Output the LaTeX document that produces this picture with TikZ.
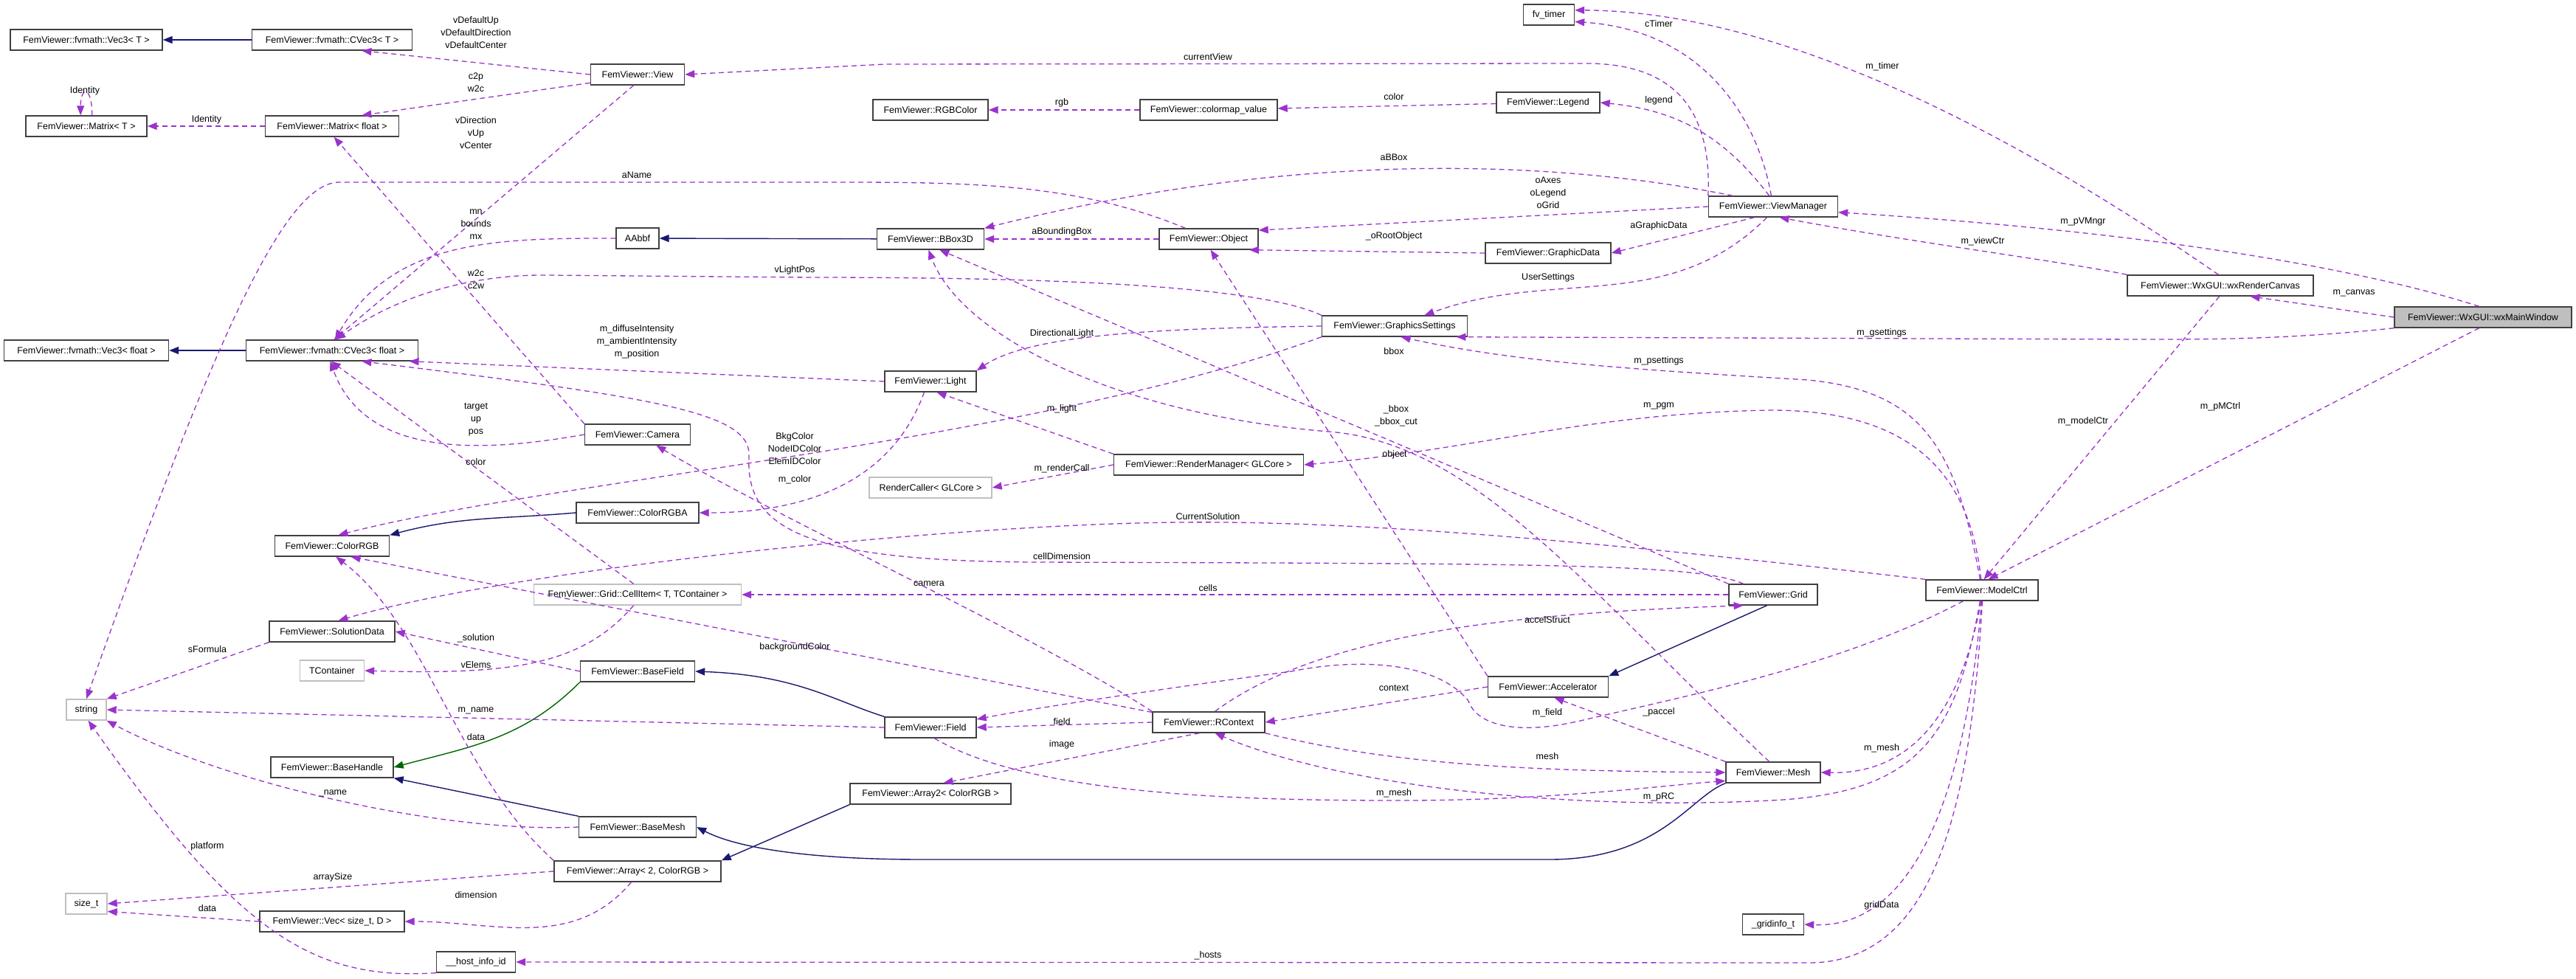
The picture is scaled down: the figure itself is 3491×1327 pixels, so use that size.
\documentclass[tikz,border=0pt]{standalone}
\usepackage{fontspec}
\setmainfont{Liberation Sans}
\usetikzlibrary{arrows.meta}
\definecolor{usec}{HTML}{9A32CD}
\definecolor{inhc}{HTML}{191970}
\definecolor{protc}{HTML}{006400}
\definecolor{grayb}{HTML}{BFBFBF}
\tikzset{
 cls/.style={draw=black!75,line width=1.4pt,rectangle,minimum height=28pt,inner sep=2pt,font=\fontsize{12.5}{14}\selectfont},
 ucls/.style={cls,draw=grayb},
 use/.style={draw=usec,line width=1.3pt,dash pattern=on 7pt off 5pt,-{Triangle[length=13pt,width=10pt]}},
 inh/.style={draw=inhc,line width=1.4pt,-{Triangle[length=13pt,width=10pt]}},
 prot/.style={draw=protc,line width=1.4pt,-{Triangle[length=13pt,width=10pt]}},
 lab/.style={font=\fontsize{12.5}{17}\selectfont,align=center,inner sep=0pt}
}
\begin{document}
\begin{tikzpicture}[x=1pt,y=-1pt]
\useasboundingbox (0,0) rectangle (3491,1327);
% nodes
\node[cls,minimum width=206] (vecT) at (117,54) {FemViewer::fvmath::Vec3< T >};
\node[cls,minimum width=217] (cvecT) at (450,54) {FemViewer::fvmath::CVec3< T >};
\node[cls,minimum width=127] (view) at (864,101) {FemViewer::View};
\node[cls,minimum width=164] (matT) at (117,171) {FemViewer::Matrix< T >};
\node[cls,minimum width=181] (matF) at (450,171) {FemViewer::Matrix< float >};
\node[cls,minimum width=58] (aabbf) at (864,323) {AAbbf};
\node[cls,minimum width=223] (vecF) at (117,475) {FemViewer::fvmath::Vec3< float >};
\node[cls,minimum width=233] (cvecF) at (450,475) {FemViewer::fvmath::CVec3< float >};
\node[cls,minimum width=143] (camera) at (864,589) {FemViewer::Camera};
\node[cls,minimum width=166] (rgba) at (864,695) {FemViewer::ColorRGBA};
\node[cls,minimum width=155] (rgb) at (450,740) {FemViewer::ColorRGB};
\node[ucls,minimum width=281] (cellitem) at (864,806) {FemViewer::Grid::CellItem< T, TContainer >};
\node[cls,minimum width=170] (soldata) at (450,856) {FemViewer::SolutionData};
\node[ucls,minimum width=87] (tcont) at (450,909) {TContainer};
\node[ucls,minimum width=54] (string) at (117,962) {string};
\node[cls,minimum width=155] (basefield) at (864,910) {FemViewer::BaseField};
\node[cls,minimum width=166] (basehandle) at (450,1040) {FemViewer::BaseHandle};
\node[cls,minimum width=159] (basemesh) at (864,1121) {FemViewer::BaseMesh};
\node[cls,minimum width=226] (arr2rgb) at (864,1181) {FemViewer::Array< 2, ColorRGB >};
\node[ucls,minimum width=56] (sizet) at (117,1225) {size\_t};
\node[cls,minimum width=196] (vecsize) at (450,1249) {FemViewer::Vec< size\_t, D >};
\node[cls,minimum width=107] (hostinfo) at (645,1304) {\_\_host\_info\_id};
\node[cls,minimum width=69] (timer) at (2099,20) {fv\_timer};
\node[cls,minimum width=156] (rgbcolor) at (1261,149) {FemViewer::RGBColor};
\node[cls,minimum width=186] (cmap) at (1638,149) {FemViewer::colormap\_value};
\node[cls,minimum width=140] (legend) at (2098,139) {FemViewer::Legend};
\node[cls,minimum width=175] (vmgr) at (2403,280) {FemViewer::ViewManager};
\node[cls,minimum width=145] (bbox) at (1261,324) {FemViewer::BBox3D};
\node[cls,minimum width=134] (object) at (1638,324) {FemViewer::Object};
\node[cls,minimum width=170] (gdata) at (2098,343) {FemViewer::GraphicData};
\node[cls,minimum width=197] (gsettings) at (1890,442) {FemViewer::GraphicsSettings};
\node[cls,minimum width=124] (light) at (1261,517) {FemViewer::Light};
\node[cls,minimum width=257] (rmgr) at (1638,630) {FemViewer::RenderManager< GLCore >};
\node[ucls,minimum width=166] (rcaller) at (1261,661) {RenderCaller< GLCore >};
\node[cls,minimum width=124] (field) at (1261,986) {FemViewer::Field};
\node[cls,minimum width=152] (rcontext) at (1638,979) {FemViewer::RContext};
\node[cls,minimum width=163] (accel) at (2098,931) {FemViewer::Accelerator};
\node[cls,minimum width=218] (array2) at (1261,1076) {FemViewer::Array2< ColorRGB >};
\node[cls,minimum width=120] (grid) at (2403,806) {FemViewer::Grid};
\node[cls,minimum width=128] (mesh) at (2403,1047) {FemViewer::Mesh};
\node[cls,minimum width=152] (mctrl) at (2686,800) {FemViewer::ModelCtrl};
\node[cls,minimum width=83] (gridinfo) at (2403,1253) {\_gridinfo\_t};
\node[cls,minimum width=252] (canvas) at (3009,387) {FemViewer::WxGUI::wxRenderCanvas};
\node[cls,minimum width=240,fill=grayb] (mainwin) at (3365,430) {FemViewer::WxGUI::wxMainWindow};
% inheritance
\draw[inh] (cvecT) -- (vecT);
\draw[inh] (cvecF) -- (vecF);
\draw[inh] (bbox) -- (aabbf);
\draw[inh] (rgba.west) to[out=185,in=15] (rgb.north east);
\draw[inh] (field.north west) .. controls (1130,950) and (1080,915) .. (basefield.east);
\draw[prot] (basefield.south west) to[out=-135,in=15] (basehandle.east);
\draw[inh] (basemesh.north west) -- (basehandle.south east);
\draw[inh] (array2.south west) -- (arr2rgb.north east);
\draw[inh] (mesh.south west) .. controls (2290,1080) and (2250,1165) .. (2100,1165) -- (1250,1165) .. controls (1100,1165) and (1000,1150) .. (basemesh.east);
\draw[inh] (grid.-120) -- (accel.north east);
% usage
\draw[use] (view.west) -- (cvecT.-20);
\draw[use] (view.-170) -- (matF.20);
\draw[use] (matT.62) .. controls +(0,-40) and +(0,-40) .. (matT.118);
\draw[use] (matF) -- (matT);
\draw[use] (view.-110) -- (cvecF.80);
\draw[use] (object.155) .. controls (1450,245) and (1300,247) .. (1100,247) -- (460,247) .. controls (390,247) and (300,430) .. (string.north);
\draw[use] (aabbf.west) to[out=180,in=60] (cvecF.75);
\draw[use] (gsettings.north west) .. controls (1700,385) and (1400,376) .. (1100,376) -- (740,373) .. controls (640,372) and (540,400) .. (cvecF.70);
\draw[use] (light.west) -- (cvecF.-8);
\draw[use] (camera.west) to[out=190,in=-70] (cvecF.-100);
\draw[use] (camera.north west) -- (matF.-80);
\draw[use] (cellitem.110) -- (cvecF.-95);
\draw[use] (rcontext.north west) .. controls (1400,860) and (1050,700) .. (camera.-30);
\draw[use] (light.-120) to[out=-110,in=0] (rgba.east);
\draw[use] (gsettings.south west) .. controls (1400,600) and (750,650) .. (rgb.60);
\draw[use] (rcontext.170) -- (rgb.-30);
\draw[use] (arr2rgb.north west) .. controls (620,1050) and (580,850) .. (rgb.-70);
\draw[use] (mctrl.north west) .. controls (2300,750) and (1900,705) .. (1600,708) .. controls (1300,710) and (700,770) .. (soldata.60);
\draw[use] (basefield.west) -- (soldata.east);
\draw[use] (soldata.south west) -- (string.north east);
\draw[use] (cellitem.-110) .. controls (790,900) and (700,915) .. (tcont.east);
\draw[use] (field.west) -- (string.east);
\draw[use] (basemesh.west) .. controls (600,1130) and (300,1060) .. (string.south east);
\draw[use] (hostinfo.south west) .. controls (420,1330) and (320,1260) .. (string.-80);
\draw[use] (arr2rgb.west) -- (sizet.east);
\draw[use] (arr2rgb.-120) to[out=-130,in=0] (vecsize.east);
\draw[use] (vecsize.west) -- (sizet.-20);
\draw[use] (vmgr.north west) .. controls (2320,150) and (2270,86) .. (2150,86) -- (1200,87) -- (view.east);
\draw[use] (vmgr.100) .. controls (2380,150) and (2300,40) .. (timer.-15);
\draw[use] (canvas.100) .. controls (2800,230) and (2450,15) .. (timer.10);
\draw[use] (cmap) -- (rgbcolor);
\draw[use] (legend) -- (cmap);
\draw[use] (vmgr.110) .. controls (2340,190) and (2280,150) .. (legend.east);
\draw[use] (vmgr.165) .. controls (2100,215) and (1750,205) .. (bbox.north east);
\draw[use] (vmgr.west) -- (object.10);
\draw[use] (object) -- (bbox);
\draw[use] (gdata.west) -- (object.-15);
\draw[use] (vmgr.-150) -- (gdata.east);
\draw[use] (vmgr.-120) to[out=225,in=20] (gsettings.20);
\draw[use] (gsettings.west) .. controls (1600,445) and (1400,450) .. (light.north east);
\draw[use] (grid.north west) -- (bbox.-50);
\draw[use] (mesh.110) .. controls (2150,800) and (2000,600) .. (1800,585) .. controls (1500,560) and (1300,450) .. (bbox.-100);
\draw[use] (accel.north west) -- (object.-80);
\draw[use] (mctrl.95) .. controls (2670,650) and (2600,556) .. (2400,556) .. controls (2150,560) and (2000,610) .. (rmgr.east);
\draw[use] (mctrl.100) .. controls (2650,600) and (2600,530) .. (2450,515) .. controls (2200,500) and (2050,490) .. (gsettings.-60);
\draw[use] (rmgr.north west) -- (light.-60);
\draw[use] (rmgr.west) -- (rcaller.east);
\draw[use] (grid.west) -- (cellitem.east);
\draw[use] (grid.160) .. controls (2300,764) and (2100,764) .. (1400,762) .. controls (1100,760) and (1010,720) .. (1015,620) .. controls (1020,560) and (900,540) .. (cvecF.-20);
\draw[use] (rcontext.60) .. controls (1800,850) and (2100,830) .. (grid.-160);
\draw[use] (mctrl.-150) .. controls (2500,900) and (2300,940) .. (2150,975) .. controls (2050,1000) and (2000,980) .. (1990,950) .. controls (1950,900) and (1850,890) .. (1750,910) .. controls (1600,930) and (1400,960) .. (field.10);
\draw[use] (rcontext.west) -- (field.east);
\draw[use] (rcontext.-130) -- (array2.40);
\draw[use] (accel.west) -- (rcontext.east);
\draw[use] (rcontext.south east) .. controls (1900,1040) and (2100,1045) .. (mesh.west);
\draw[use] (field.-70) .. controls (1400,1080) and (1700,1085) .. (1900,1085) .. controls (2100,1085) and (2250,1065) .. (mesh.-170);
\draw[use] (mctrl.-100) .. controls (2650,1000) and (2600,1075) .. (2400,1085) .. controls (2100,1100) and (1800,1060) .. (rcontext.-60);
\draw[use] (mesh.north west) -- (accel.-60);
\draw[use] (mctrl.-88) .. controls (2670,1100) and (2620,1306) .. (2450,1305) -- (hostinfo.east);
\draw[use] (mctrl.-95) .. controls (2660,950) and (2600,1050) .. (mesh.east);
\draw[use] (mctrl.-92) .. controls (2670,1000) and (2620,1260) .. (gridinfo.east);
\draw[use] (mainwin.south west) .. controls (3100,460) and (3000,460) .. (2900,460) -- (gsettings.-10);
\draw[use] (mainwin.110) .. controls (3250,380) and (3000,320) .. (vmgr.-5);
\draw[use] (canvas.north west) .. controls (2800,355) and (2600,330) .. (vmgr.-60);
\draw[use] (mainwin.west) -- (canvas.-20);
\draw[use] (canvas.-95) -- (mctrl.80);
\draw[use] (mainwin.-110) -- (mctrl.60);
% labels
\node[lab] (l1) at (645,44) {vDefaultUp\\vDefaultDirection\\vDefaultCenter};
\node[lab] (l2) at (645,112) {c2p\\w2c};
\node[lab] (l3) at (115,123) {Identity};
\node[lab] (l4) at (280,162) {Identity};
\node[lab] (l5) at (645,180) {vDirection\\vUp\\vCenter};
\node[lab] (l6) at (863,237) {aName};
\node[lab] (l7) at (645,304) {mn\\bounds\\mx};
\node[lab] (l8) at (645,379) {w2c\\c2w};
\node[lab] (l9) at (1077,366) {vLightPos};
\node[lab] (l10) at (863,463) {m\_diffuseIntensity\\m\_ambientIntensity\\m\_position};
\node[lab] (l11) at (645,569) {target\\up\\pos};
\node[lab] (l12) at (645,626) {color};
\node[lab] (l13) at (1077,608) {BkgColor\\NodeIDColor\\ElemIDColor};
\node[lab] (l14) at (1077,650) {m\_color};
\node[lab] (l15) at (645,865) {\_solution};
\node[lab] (l16) at (281,880) {sFormula};
\node[lab] (l17) at (645,901) {vElems};
\node[lab] (l18) at (1077,877) {backgroundColor};
\node[lab] (l19) at (645,963) {m\_name};
\node[lab] (l20) at (645,999) {data};
\node[lab] (l21) at (451,1075) {\_name};
\node[lab] (l22) at (281,1147) {platform};
\node[lab] (l23) at (451,1189) {arraySize};
\node[lab] (l24) at (645,1213) {dimension};
\node[lab] (l25) at (281,1231) {data};
\node[lab] (l26) at (2248,32) {cTimer};
\node[lab] (l27) at (1637,77) {currentView};
\node[lab] (l28) at (1439,139) {rgb};
\node[lab] (l29) at (1889,131) {color};
\node[lab] (l30) at (2248,136) {legend};
\node[lab] (l31) at (1889,213) {aBBox};
\node[lab] (l32) at (2098,261) {oAxes\\oLegend\\oGrid};
\node[lab] (l33) at (1439,314) {aBoundingBox};
\node[lab] (l34) at (1889,320) {\_oRootObject};
\node[lab] (l35) at (2248,306) {aGraphicData};
\node[lab] (l36) at (2098,376) {UserSettings};
\node[lab] (l37) at (1439,452) {DirectionalLight};
\node[lab] (l38) at (1889,476) {bbox};
\node[lab] (l39) at (2248,489) {m\_psettings};
\node[lab] (l40) at (1439,554) {m\_light};
\node[lab] (l41) at (1892,564) {\_bbox\\\_bbox\_cut};
\node[lab] (l42) at (2248,550) {m\_pgm};
\node[lab] (l43) at (1890,616) {object};
\node[lab] (l44) at (1439,635) {m\_renderCall};
\node[lab] (l45) at (1637,700) {CurrentSolution};
\node[lab] (l46) at (1439,754) {cellDimension};
\node[lab] (l47) at (1259,791) {camera};
\node[lab] (l48) at (1637,797) {cells};
\node[lab] (l49) at (2097,840) {accelStruct};
\node[lab] (l50) at (1889,933) {context};
\node[lab] (l51) at (2248,965) {\_paccel};
\node[lab] (l52) at (2097,966) {m\_field};
\node[lab] (l53) at (1439,978) {field};
\node[lab] (l54) at (1439,1009) {image};
\node[lab] (l55) at (2097,1025) {mesh};
\node[lab] (l56) at (1889,1075) {m\_mesh};
\node[lab] (l57) at (2248,1080) {m\_pRC};
\node[lab] (l58) at (1637,1295) {\_hosts};
\node[lab] (l59) at (2551,90) {m\_timer};
\node[lab] (l60) at (2823,300) {m\_pVMngr};
\node[lab] (l61) at (2687,327) {m\_viewCtr};
\node[lab] (l62) at (3190,397) {m\_canvas};
\node[lab] (l63) at (2550,451) {m\_gsettings};
\node[lab] (l64) at (3009,551) {m\_pMCtrl};
\node[lab] (l65) at (2823,571) {m\_modelCtr};
\node[lab] (l66) at (2550,1014) {m\_mesh};
\node[lab] (l67) at (2550,1227) {gridData};
\end{tikzpicture}
\end{document}
